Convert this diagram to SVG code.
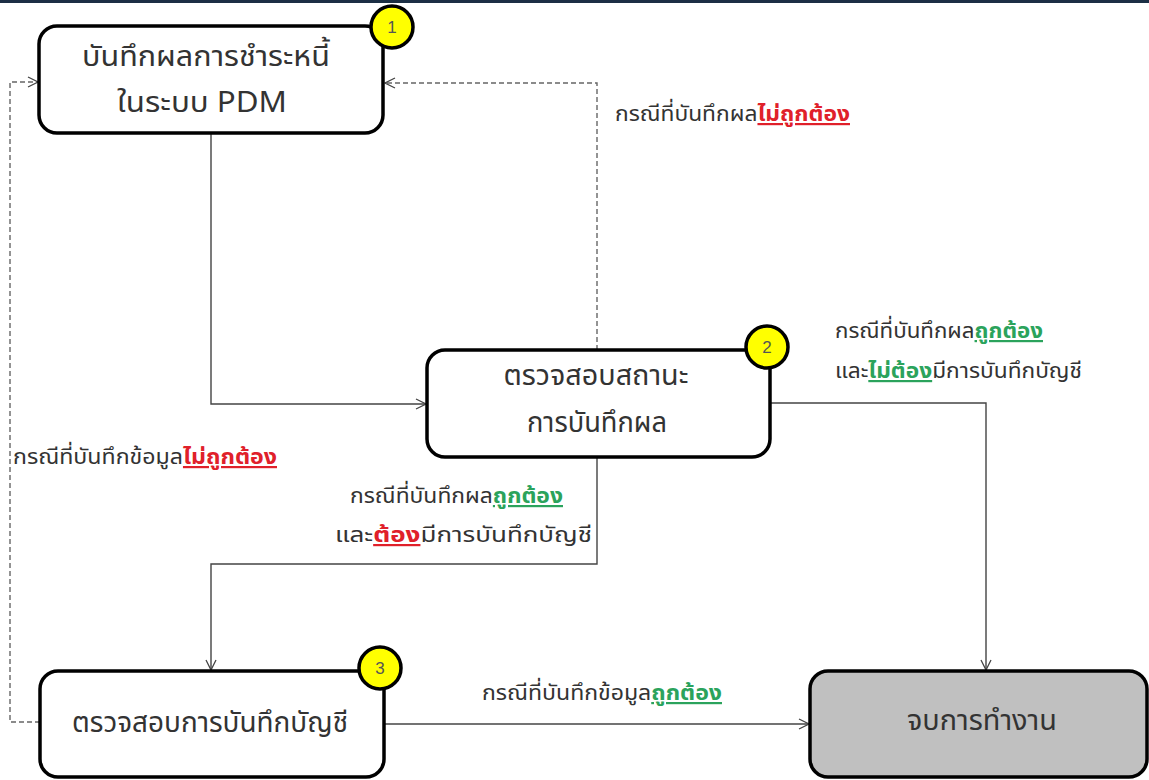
<svg xmlns="http://www.w3.org/2000/svg" width="1149" height="780" viewBox="0 0 1149 780">
<defs>
<style>
.box{fill:#ffffff;stroke:#000;stroke-width:3.5}
.end{fill:#c0c0c0;stroke:#000;stroke-width:3.5}
.badge{fill:#ffff00;stroke:#000;stroke-width:3.5}
.num{font-family:"Liberation Sans",Arial,sans-serif;font-size:17px;fill:#555;text-anchor:middle}
.nt{font-family:"Noto Sans Thai","Leelawadee UI",Tahoma,"Noto Sans",sans-serif;font-size:29px;fill:#333;text-anchor:middle}
.lb{font-family:"Noto Sans Thai","Leelawadee UI",Tahoma,"Noto Sans",sans-serif;font-size:22px;fill:#333}
.red{fill:#e0202a;font-weight:bold;text-decoration:underline}
.grn{fill:#2ba35c;font-weight:bold;text-decoration:underline}
.ln{fill:none;stroke:#444;stroke-width:1.4}
.dl{fill:none;stroke:#666;stroke-width:1.4;stroke-dasharray:5,3}
</style>
<marker id="ah" viewBox="0 0 12 12" refX="11" refY="6" markerWidth="12" markerHeight="12" markerUnits="userSpaceOnUse" orient="auto">
<path d="M1,1 L11,6 L1,11" fill="none" stroke="#444" stroke-width="1.3"/>
</marker>
</defs>
<rect x="0" y="0" width="1149" height="780" fill="#ffffff"/>
<rect x="0" y="0" width="1149" height="3" fill="#1c2f45"/>
<g id="connectors">
<path class="ln" d="M211,133 V404 H426" marker-end="url(#ah)"/>
<path class="dl" d="M597,350 V83 H385" marker-end="url(#ah)"/>
<path class="ln" d="M770,403 H986 V670" marker-end="url(#ah)"/>
<path class="ln" d="M597,457 V564 H211 V670" marker-end="url(#ah)"/>
<path class="ln" d="M384,724 H809" marker-end="url(#ah)"/>
<path class="dl" d="M40,722 H10 V82 H38" marker-end="url(#ah)"/>
</g>
<g id="labels">
<text class="lb" x="615" y="121" textLength="235" lengthAdjust="spacingAndGlyphs">กรณีที่บันทึกผล<tspan class="red">ไม่ถูกต้อง</tspan></text>
<text class="lb" x="835" y="338" textLength="208" lengthAdjust="spacingAndGlyphs">กรณีที่บันทึกผล<tspan class="grn">ถูกต้อง</tspan></text>
<text class="lb" x="835" y="378" textLength="247" lengthAdjust="spacingAndGlyphs">และ<tspan class="grn">ไม่ต้อง</tspan>มีการบันทึกบัญชี</text>
<text class="lb" x="13" y="464" textLength="264" lengthAdjust="spacingAndGlyphs">กรณีที่บันทึกข้อมูล<tspan class="red">ไม่ถูกต้อง</tspan></text>
<text class="lb" x="350" y="503" textLength="213" lengthAdjust="spacingAndGlyphs">กรณีที่บันทึกผล<tspan class="grn">ถูกต้อง</tspan></text>
<text class="lb" x="335" y="542" textLength="257" lengthAdjust="spacingAndGlyphs">และ<tspan class="red">ต้อง</tspan>มีการบันทึกบัญชี</text>
<text class="lb" x="482" y="700" textLength="240" lengthAdjust="spacingAndGlyphs">กรณีที่บันทึกข้อมูล<tspan class="grn">ถูกต้อง</tspan></text>
</g>
<g id="node1">
<rect class="box" x="39" y="26" width="344" height="107" rx="18"/>
<text class="nt" x="206" y="66" textLength="248" lengthAdjust="spacingAndGlyphs">บันทึกผลการชำระหนี้</text>
<text class="nt" x="202" y="112" textLength="170" lengthAdjust="spacingAndGlyphs">ในระบบ PDM</text>
<circle class="badge" cx="392" cy="27" r="21"/>
<text class="num" x="392" y="33">1</text>
</g>
<g id="node2">
<rect class="box" x="427" y="350" width="343" height="107" rx="18"/>
<text class="nt" x="596" y="385" textLength="185" lengthAdjust="spacingAndGlyphs">ตรวจสอบสถานะ</text>
<text class="nt" x="597" y="432" textLength="140" lengthAdjust="spacingAndGlyphs">การบันทึกผล</text>
<circle class="badge" cx="767" cy="347" r="21"/>
<text class="num" x="767" y="353">2</text>
</g>
<g id="node3">
<rect class="box" x="40" y="671" width="344" height="106" rx="18"/>
<text class="nt" x="210" y="732" textLength="276" lengthAdjust="spacingAndGlyphs">ตรวจสอบการบันทึกบัญชี</text>
<circle class="badge" cx="380" cy="668" r="21"/>
<text class="num" x="380" y="674">3</text>
</g>
<g id="end">
<rect class="end" x="810" y="671" width="337" height="106" rx="18"/>
<text class="nt" x="982" y="730" textLength="150" lengthAdjust="spacingAndGlyphs">จบการทำงาน</text>
</g>
</svg>
